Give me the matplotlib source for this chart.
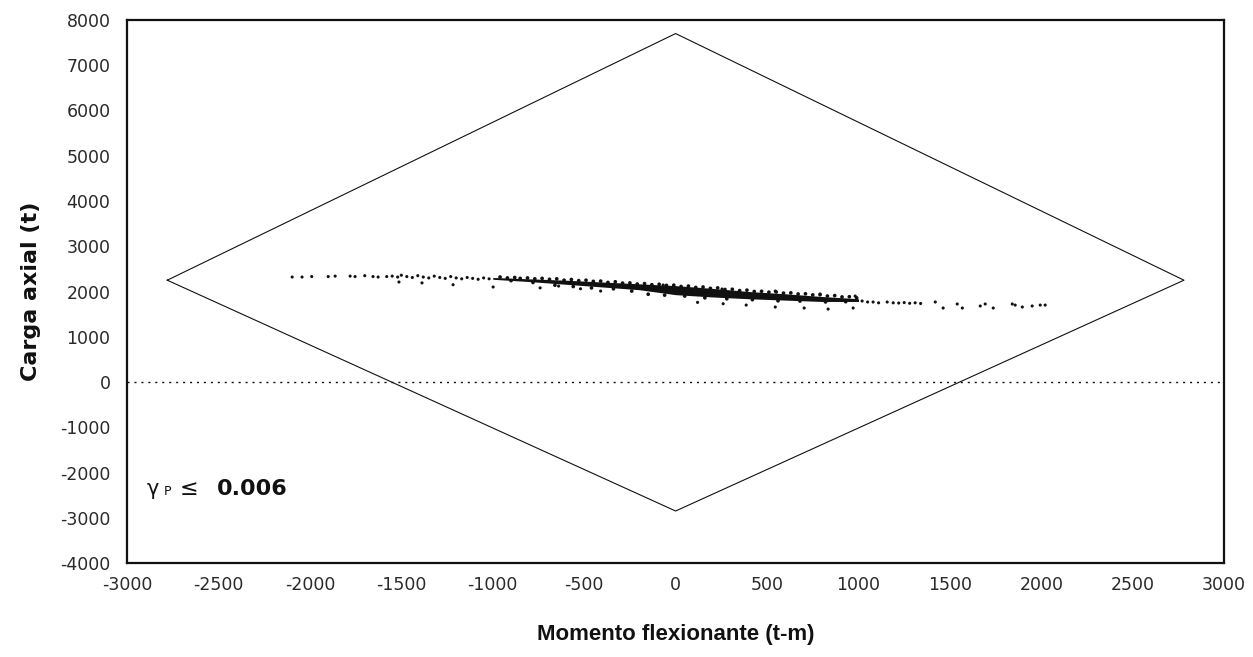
import matplotlib.pyplot as plt
import matplotlib.ticker as mticker

# ── Data ──
# interaction diagram (closed polygon)
env_m = [-2780, 0, 2780, 0, -2780]
env_p = [2250, 7700, 2250, -2850, 2250]

# dense core of the load cloud: x, upper edge, lower edge
core_m = [-1000, -800, -600, -400, -200, 0, 200, 400, 600, 800, 1000]
core_hi = [2310, 2280, 2250, 2210, 2170, 2130, 2070, 2000, 1950, 1890, 1840]
core_lo = [2270, 2220, 2160, 2100, 2040, 1930, 1880, 1840, 1810, 1780, 1780]

# sparse points around the core
pts_m = [-2097, -2043, -1990, -1900, -1862, -1780, -1753, -1700, -1655, -1627,
         -1580, -1550, -1520, -1500, -1470, -1440, -1410, -1380, -1350, -1320,
         -1290, -1260, -1230, -1200, -1170, -1140, -1110, -1080, -1050, -1020,
         -1513, -1387, -1217, -998, -741, -640, -520, -410,
         -68, 254, 545, 790, 982,
         386, 545, 703, 834, 971, 120, 260,
         1020, 1050, 1080, 1110, 1157, 1190, 1220, 1250, 1280, 1310, 1340,
         1420, 1463, 1540, 1568, 1666, 1693, 1737, 1841, 1857, 1896, 1950,
         1994, 2021]
pts_p = [2320, 2320, 2330, 2330, 2340, 2340, 2330, 2350, 2330, 2320,
         2330, 2340, 2320, 2360, 2330, 2310, 2350, 2320, 2300, 2340,
         2310, 2290, 2330, 2300, 2280, 2310, 2290, 2270, 2300, 2280,
         2210, 2190, 2150, 2100, 2080, 2120, 2060, 2010,
         2144, 2055, 2010, 1945, 1900,
         1700, 1657, 1635, 1612, 1635, 1760, 1730,
         1790, 1768, 1768, 1750, 1768, 1750, 1745, 1755, 1740, 1750, 1735,
         1768, 1635, 1724, 1635, 1680, 1724, 1635, 1724, 1700, 1657, 1680,
         1700, 1700]

# points hugging the edges of the core (rough texture)
edge_m = [-960, -920, -880, -850, -810, -770, -730, -690, -650, -610,
          -570, -530, -490, -450, -410, -370, -330, -290, -250, -210,
          -170, -130, -90, -50, -10, 30, 70, 110, 150, 190,
          230, 270, 310, 350, 390, 430, 470, 510, 550, 590,
          630, 670, 710, 750, 790, 830, 870, 910, 950, 990,
          -900, -780, -660, -560, -460, -340, -240, -150, -60, 50,
          160, 280, 420, 560, 680, 820, 930]
edge_p = [2320, 2300, 2310, 2290, 2300, 2280, 2290, 2270, 2280, 2250,
          2265, 2240, 2250, 2225, 2230, 2200, 2215, 2185, 2190, 2165,
          2175, 2150, 2160, 2135, 2140, 2110, 2120, 2090, 2100, 2070,
          2080, 2045, 2050, 2020, 2030, 2000, 2005, 1985, 1990, 1965,
          1970, 1945, 1950, 1925, 1930, 1900, 1910, 1880, 1885, 1860,
          2240, 2200, 2140, 2110, 2080, 2060, 2010, 1940, 1920, 1900,
          1860, 1840, 1820, 1795, 1790, 1770, 1775]

INK = "#111111"
TICK = "#2a2a2a"

fig = plt.figure(figsize=(12.53, 6.57), dpi=100, facecolor="white")
ax = fig.add_axes([0.1014, 0.143, 0.8756, 0.8266])

ax.plot(env_m, env_p, color=INK, linewidth=0.8)
ax.axhline(0, color=INK, linewidth=1.0, linestyle=(0, (1.5, 3.5)))

ax.fill_between(core_m, core_lo, core_hi, color=INK, linewidth=0)
ax.scatter(edge_m, edge_p, s=7, color=INK, edgecolors="none")
ax.scatter(pts_m, pts_p, s=5, color=INK, edgecolors="none")

ax.set_xlim(-3000, 3000)
ax.set_ylim(-4000, 8000)
ax.xaxis.set_major_locator(mticker.MultipleLocator(500))
ax.yaxis.set_major_locator(mticker.MultipleLocator(1000))
fmt = mticker.FuncFormatter(lambda v, p: f"{v:.0f}")
ax.xaxis.set_major_formatter(fmt)
ax.yaxis.set_major_formatter(fmt)
ax.tick_params(length=0, labelsize=12.5, colors=TICK, pad=12)
ax.tick_params(axis="x", pad=9)
for spine in ax.spines.values():
    spine.set_linewidth(1.6)
    spine.set_color(INK)

ax.set_xlabel("Momento flexionante (t-m)", fontsize=16, fontweight="bold",
              labelpad=22, color=INK, family="Liberation Sans")
ax.set_ylabel("Carga axial (t)", fontsize=16, fontweight="bold",
              labelpad=14, color=INK)

ax.text(-2895, -2490, "\u03b3", fontsize=15, color=INK, va="baseline")
ax.text(-2800, -2490, "P", fontsize=9, color=INK, va="baseline")
ax.text(-2710, -2490, "\u2264", fontsize=16, color=INK, va="baseline")
ax.text(-2510, -2490, "0.006", fontsize=16, fontweight="bold", color=INK,
        va="baseline")

fig.savefig("out.png", dpi=100, facecolor="white")
